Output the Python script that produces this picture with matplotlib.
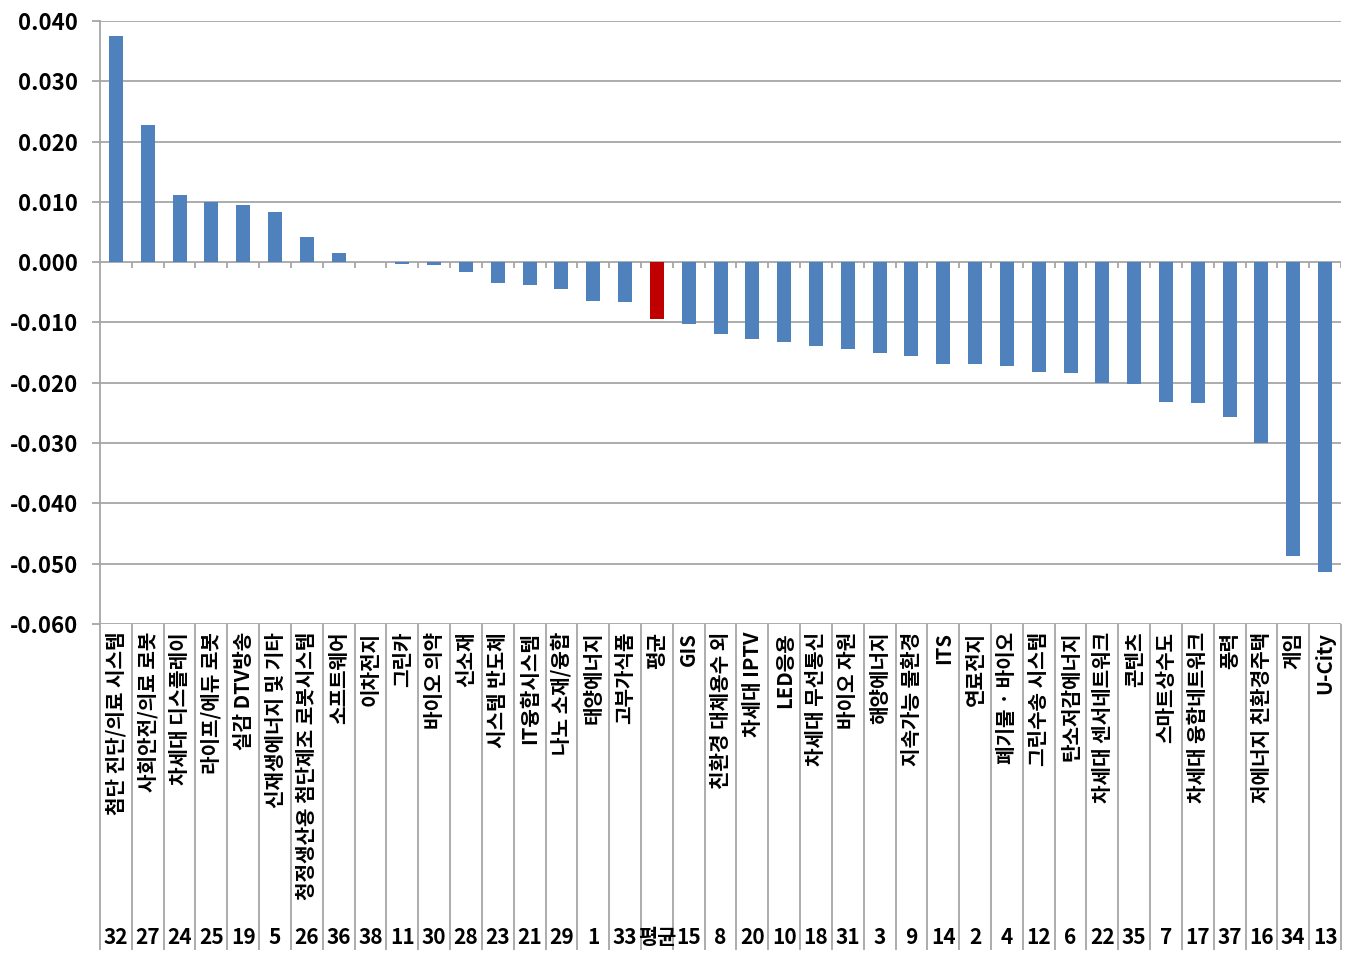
import matplotlib
matplotlib.use("Agg")
import matplotlib.pyplot as plt

plt.rcParams['font.family'] = ['Noto Sans CJK KR', 'DejaVu Sans']
plt.rcParams['axes.unicode_minus'] = False

labels = ["첨단 진단/의료 시스템", "사회안전/의료 로봇", "차세대 디스플레이", "라이프/에듀 로봇",
          "실감 DTV방송", "신재생에너지 및 기타", "청정생산용 첨단제조 로봇시스템", "소프트웨어",
          "이차전지", "그린카", "바이오 의약", "신소재", "시스템 반도체", "IT융합시스템",
          "나노 소재/융합", "태양에너지", "고부가식품", "평균", "GIS", "친환경 대체용수 외",
          "차세대 IPTV", "LED응용", "차세대 무선통신", "바이오 자원", "해양에너지",
          "지속가능 물환경", "ITS", "연료전지", "폐기물 · 바이오", "그린수송 시스템",
          "탄소저감에너지", "차세대 센서네트워크", "콘텐츠", "스마트상수도", "차세대 융합네트워크",
          "풍력", "저에너지 친환경주택", "게임", "U-City"]
codes = ["32", "27", "24", "25", "19", "5", "26", "36", "38", "11", "30", "28", "23", "21",
         "29", "1", "33", "평균", "15", "8", "20", "10", "18", "31", "3", "9", "14", "2", "4",
         "12", "6", "22", "35", "7", "17", "37", "16", "34", "13"]
values = [0.0375, 0.0227, 0.0111, 0.0100, 0.0095, 0.0084, 0.0041, 0.0015,
          0.0001, -0.0003, -0.0005, -0.0016, -0.0035, -0.0038, -0.0045, -0.0064,
          -0.0066, -0.0094, -0.0103, -0.0119, -0.0128, -0.0133, -0.0139, -0.0144,
          -0.0151, -0.0156, -0.0169, -0.0169, -0.0172, -0.0182, -0.0184, -0.0200,
          -0.0202, -0.0231, -0.0234, -0.0256, -0.0300, -0.0487, -0.0513]
yticks = [0.040, 0.030, 0.020, 0.010, 0.000, -0.010, -0.020, -0.030, -0.040, -0.050, -0.060]

grid_c = "#A6A6A6"
colors = ["#C00000" if c == "평균" else "#4F81BD" for c in codes]
x = list(range(len(values)))

fig = plt.figure(figsize=(13.61, 9.66), dpi=100)
ax = fig.add_axes([0.0735, 0.354, 0.9118, 0.6243])

ax.bar(x, values, width=0.44, color=colors, zorder=3)
ax.set_xlim(-0.5, len(values) - 0.5)
ax.set_ylim(-0.060, 0.040)
ax.set_yticks(yticks)
ax.set_yticklabels(["%.3f" % v for v in yticks], fontsize=16, fontweight='bold')
ax.yaxis.grid(True, color=grid_c, linewidth=1.3, zorder=0)
ax.tick_params(axis='y', length=6, width=1.3, color=grid_c, pad=10)
ax.set_xticks([])
for s in ["top", "right", "bottom"]:
    ax.spines[s].set_visible(False)
ax.spines["left"].set_color(grid_c)
ax.spines["left"].set_linewidth(1.3)

# zero line ticks at category boundaries
bounds = [i - 0.5 for i in range(len(values) + 1)]
ax.vlines(bounds[1:], 0, -0.0009, color=grid_c, linewidth=1.3, zorder=2)

# category label table below the plot
tr = ax.get_xaxis_transform()
ax.vlines(bounds, -0.54, 0, transform=tr, color=grid_c, linewidth=1.3, clip_on=False)
for i, (lab, code) in enumerate(zip(labels, codes)):
    ax.text(i, -0.013, lab, transform=tr, rotation=90, ha='center', va='top',
            fontsize=14.5, fontweight='bold')
    ax.text(i, -0.52, code, transform=tr, ha='center', va='center',
            fontsize=15, fontweight='bold')

fig.savefig("out.png", dpi=100)
